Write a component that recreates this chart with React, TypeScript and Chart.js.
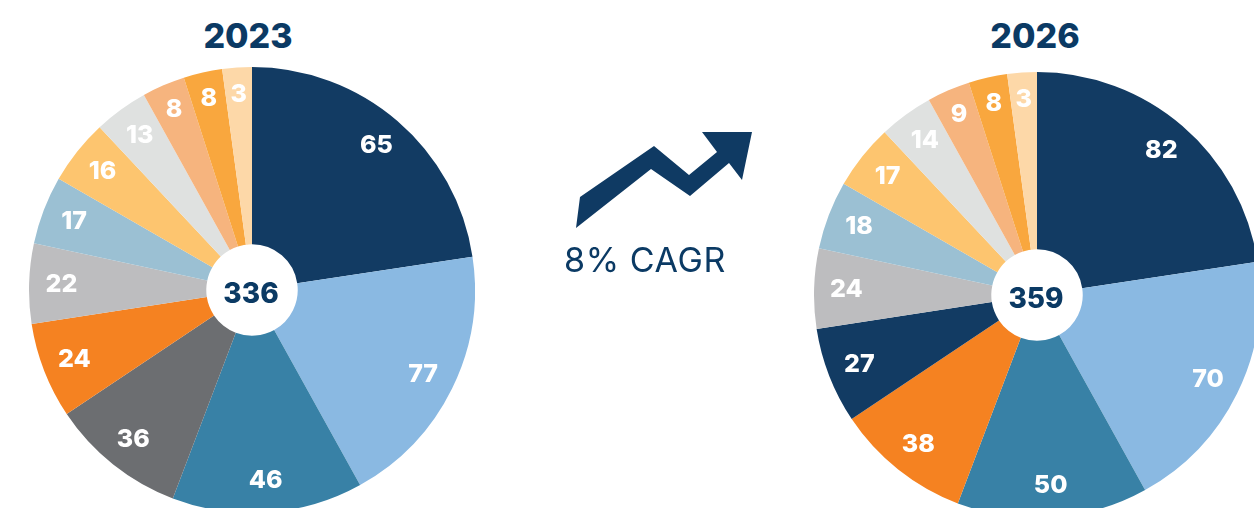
import { useEffect, useRef } from 'react';
import { Chart, registerables } from 'chart.js';

Chart.register(...registerables);

// Segment order, clockwise from 12 o'clock
const categories = ['S1', 'S2', 'S3', 'S4', 'S5', 'S6', 'S7', 'S8', 'S9', 'S10', 'S11', 'S12'];

// Wedge sizes (both pies share the same shape)
const shares2023 = [81.4, 69.6, 49.8, 35.4, 25.0, 20.9, 17.8, 17.0, 14.1, 11.2, 10.1, 7.7];
const shares2026 = [81.4, 69.6, 49.8, 35.4, 25.0, 20.9, 17.8, 17.0, 14.1, 11.2, 10.1, 7.7];

// Numbers printed on the wedges
const printed2023 = ['65', '77', '46', '36', '24', '22', '17', '16', '13', '8', '8', '3'];
const printed2026 = ['82', '70', '50', '38', '27', '24', '18', '17', '14', '9', '8', '3'];

const total2023 = '336';
const total2026 = '359';

const years = ['2023', '2026'];
const growthLabel = '8% CAGR';

const NAVY = '#0f3a63';
const TEXT_NAVY = '#0b3a64';

const colors2023 = [
  '#123b63', '#8ab9e2', '#3881a6', '#6c6e71', '#f58221', '#bdbdbf',
  '#9bc0d3', '#fdc56f', '#dfe1e0', '#f6b47e', '#f9a73e', '#fdd8a8',
];
const colors2026 = [
  '#123b63', '#8ab9e2', '#3881a6', '#f58221', '#123b63', '#bdbdbf',
  '#9bc0d3', '#fdc56f', '#dfe1e0', '#f6b47e', '#f9a73e', '#fdd8a8',
];

const FONT = 'Inter, "Open Sans", "DejaVu Sans", sans-serif';

function makeLabelPlugin(printed: string[], total: string) {
  return {
    id: 'wedgeLabels',
    afterDatasetsDraw(chart: any) {
      const ctx = chart.ctx;
      const meta = chart.getDatasetMeta(0);
      ctx.save();
      ctx.textAlign = 'center';
      ctx.textBaseline = 'middle';
      let cx = 0;
      let cy = 0;
      meta.data.forEach((arc: any, i: number) => {
        const p = arc.getProps(['x', 'y', 'startAngle', 'endAngle', 'outerRadius'], true);
        cx = p.x;
        cy = p.y;
        const mid = (p.startAngle + p.endAngle) / 2;
        const span = p.endAngle - p.startAngle;
        const r = p.outerRadius * (span < 0.22 ? 0.88 : 0.855);
        ctx.fillStyle = '#ffffff';
        ctx.font = `800 25px ${FONT}`;
        ctx.fillText(printed[i], p.x + Math.cos(mid) * r, p.y + Math.sin(mid) * r);
      });
      ctx.fillStyle = TEXT_NAVY;
      ctx.font = `800 28px ${FONT}`;
      ctx.fillText(total, cx - 1, cy + 5);
      ctx.restore();
    },
  };
}

function Pie(props: {
  shares: number[];
  printed: string[];
  colors: string[];
  total: string;
  left: number;
  top: number;
}) {
  const ref = useRef<HTMLCanvasElement>(null);
  useEffect(() => {
    const chart = new Chart(ref.current as HTMLCanvasElement, {
      type: 'doughnut',
      data: {
        labels: categories,
        datasets: [
          {
            data: props.shares,
            backgroundColor: props.colors,
            borderWidth: 0,
          },
        ],
      },
      options: {
        responsive: false,
        animation: false,
        events: [],
        cutout: '20.5%',
        layout: { padding: 0 },
        plugins: {
          legend: { display: false },
          tooltip: { enabled: false },
          title: { display: false },
        },
      },
      plugins: [makeLabelPlugin(props.printed, props.total)],
    } as any);
    return () => chart.destroy();
  }, []);
  return (
    <canvas
      ref={ref}
      width={446}
      height={446}
      style={{ position: 'absolute', left: props.left, top: props.top, width: 446, height: 446 }}
    />
  );
}

export default function App() {
  const titleStyle = {
    position: 'absolute' as const,
    top: 16,
    width: 200,
    textAlign: 'center' as const,
    fontSize: 34,
    lineHeight: '40px',
    fontWeight: 800,
    color: TEXT_NAVY,
  };
  return (
    <div
      style={{
        position: 'absolute',
        left: 0,
        top: 0,
        width: 1254,
        height: 508,
        overflow: 'hidden',
        background: '#ffffff',
        fontFamily: FONT,
      }}
    >
      <div style={{ ...titleStyle, left: 148 }}>{years[0]}</div>
      <div style={{ ...titleStyle, left: 935 }}>{years[1]}</div>

      <Pie shares={shares2023} printed={printed2023} colors={colors2023} total={total2023} left={29} top={67} />
      <Pie shares={shares2026} printed={printed2026} colors={colors2026} total={total2026} left={814} top={72} />

      <svg
        width={1254}
        height={508}
        style={{ position: 'absolute', left: 0, top: 0, pointerEvents: 'none' }}
      >
        <polygon
          fill={NAVY}
          points="576,228 580,197 654,146 689,175 717,152 702,132 752,132 742,180 729,163 690,196 651,169"
        />
      </svg>
      <div
        style={{
          position: 'absolute',
          left: 545,
          top: 240,
          width: 200,
          textAlign: 'center',
          fontSize: 34,
          lineHeight: '40px',
          fontWeight: 400,
          letterSpacing: '0.6px',
          color: TEXT_NAVY,
        }}
      >
        {growthLabel}
      </div>
    </div>
  );
}
